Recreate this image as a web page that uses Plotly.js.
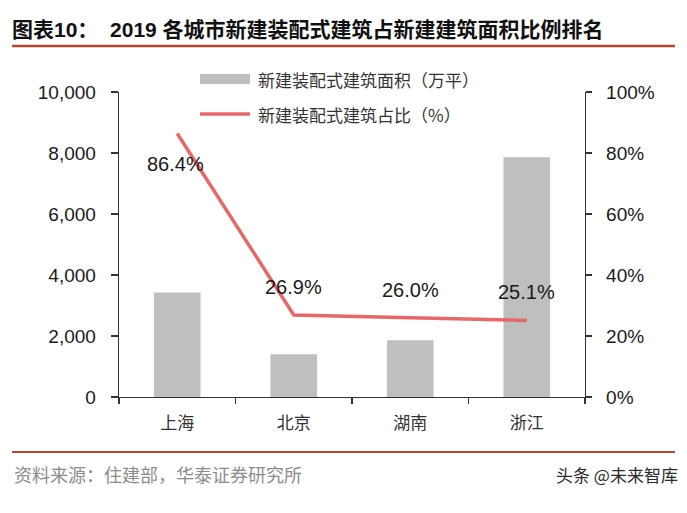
<!DOCTYPE html>
<html>
<head>
<meta charset="utf-8">
<script src="https://cdn.plot.ly/plotly-3.0.1.min.js"></script>
<style>html,body{margin:0;padding:0;background:#fff;}#chart{width:687px;height:513px;}</style>
</head>
<body>
<div id="chart"></div>
<script>
// ---- data ----
const categories = ["上海", "北京", "湖南", "浙江"];
const areaValues = [3430, 1400, 1860, 7860];          // 新建装配式建筑面积（万平）
const shareValues = [86.4, 26.9, 26.0, 25.1];         // 新建装配式建筑占比（%）
const leftTicks = [0, 2000, 4000, 6000, 8000, 10000];
const rightTicks = [0, 20, 40, 60, 80, 100];
const rightTickLabels = ["0%", "20%", "40%", "60%", "80%", "100%"];
const seriesNames = ["新建装配式建筑面积（万平）", "新建装配式建筑占比（%）"];
const titleText = "图表10：  2019 各城市新建装配式建筑占新建建筑面积比例排名";
const sourceText = "资料来源：住建部，华泰证券研究所";
const watermarkText = "头条 @未来智库";

// ---- layout helpers (pixel -> paper) ----
const L = 119, R = 585, T = 92, B = 397, W = 687, H = 513;
const px = x => (x - L) / (R - L);
const py = y => (B - y) / (B - T);

const latin = "Liberation Sans, Arial, sans-serif";
const cjk = "Noto Sans CJK SC, sans-serif";
const barColor = "#bfbfbf";
const lineColor = "#e8686a";
const ruleColor = "#b9452f";

const traces = [
  {
    type: "bar", x: categories, y: areaValues, name: seriesNames[0],
    marker: {color: barColor}, width: 0.4, yaxis: "y", showlegend: false, hoverinfo: "skip"
  },
  {
    type: "scatter", mode: "lines", x: categories, y: shareValues, name: seriesNames[1],
    line: {color: lineColor, width: 3.5}, yaxis: "y2", showlegend: false, hoverinfo: "skip"
  }
];

// data labels
const labelShifts = [{x: -2, y: -31}, {x: 0, y: 28}, {x: 0, y: 28}, {x: 0, y: 28}];
const annotations = categories.map((c, i) => ({
  x: c, y: shareValues[i], xref: "x", yref: "y2",
  text: shareValues[i].toFixed(1) + "%", showarrow: false,
  xshift: labelShifts[i].x, yshift: labelShifts[i].y,
  font: {family: latin, size: 20, color: "#1a1a1a"}
}));

// manual legend text, source, watermark
annotations.push(
  {xref: "paper", yref: "paper", x: px(256), y: py(79), xanchor: "left", yanchor: "middle",
   text: seriesNames[0], showarrow: false, font: {family: cjk, size: 17, color: "#333"}},
  {xref: "paper", yref: "paper", x: px(256), y: py(114), xanchor: "left", yanchor: "middle",
   text: seriesNames[1], showarrow: false, font: {family: cjk, size: 17, color: "#333"}},
  {xref: "paper", yref: "paper", x: px(12), y: py(474), xanchor: "left", yanchor: "middle",
   text: sourceText, showarrow: false, font: {family: cjk, size: 18, color: "#8c8c8c"}},
  {xref: "paper", yref: "paper", x: px(680), y: py(474), xanchor: "right", yanchor: "middle",
   text: watermarkText, showarrow: false, font: {family: cjk, size: 17, color: "#2b2b2b"}}
);

const shapes = [
  // legend swatches
  {type: "rect", xref: "paper", yref: "paper", x0: px(200), x1: px(250), y0: py(84), y1: py(74),
   fillcolor: barColor, line: {width: 0}},
  {type: "line", xref: "paper", yref: "paper", x0: px(200), x1: px(250), y0: py(114), y1: py(114),
   line: {color: lineColor, width: 3.5}},
  // rules
  {type: "line", xref: "paper", yref: "paper", x0: px(12), x1: px(675), y0: py(46), y1: py(46),
   line: {color: ruleColor, width: 2.5}},
  {type: "line", xref: "paper", yref: "paper", x0: px(12), x1: px(675), y0: py(452), y1: py(452),
   line: {color: ruleColor, width: 2}}
];

const layout = {
  width: W, height: H,
  margin: {l: L, r: W - R, t: T, b: H - B, pad: 0},
  paper_bgcolor: "#fff", plot_bgcolor: "#fff",
  title: {
    text: "<b>" + titleText + "</b>",
    xref: "container", yref: "container", x: 12 / W, xanchor: "left",
    y: 1 - 30 / H, yanchor: "middle",
    font: {family: "Liberation Sans, Noto Sans CJK SC, sans-serif", size: 21, color: "#111"}
  },
  xaxis: {
    type: "category", showgrid: false, zeroline: false,
    showline: true, linecolor: "#333", linewidth: 1.3,
    ticks: "outside", tickson: "boundaries", ticklen: 6, tickcolor: "#333", tickwidth: 1.3,
    tickfont: {family: cjk, size: 17, color: "#333"}, ticklabelstandoff: 10,
    range: [-0.5, categories.length - 0.5], fixedrange: true
  },
  yaxis: {
    range: [0, 10000], tickvals: leftTicks, tickformat: ",d",
    showgrid: false, zeroline: false, showline: true, linecolor: "#333", linewidth: 1.3,
    ticks: "outside", ticklen: 7, tickcolor: "#333", tickwidth: 1.3,
    tickfont: {family: latin, size: 19, color: "#1a1a1a"}, ticklabelstandoff: 11,
    fixedrange: true
  },
  yaxis2: {
    overlaying: "y", side: "right", range: [0, 100],
    tickmode: "array", tickvals: rightTicks, ticktext: rightTickLabels,
    showgrid: false, zeroline: false, showline: true, linecolor: "#333", linewidth: 1.3,
    ticks: "outside", ticklen: 6, tickcolor: "#333", tickwidth: 1.3,
    tickfont: {family: latin, size: 19, color: "#1a1a1a"}, ticklabelstandoff: 10,
    fixedrange: true
  },
  annotations: annotations,
  shapes: shapes,
  showlegend: false
};

Plotly.newPlot("chart", traces, layout, {displayModeBar: false, staticPlot: true});
</script>
</body>
</html>
